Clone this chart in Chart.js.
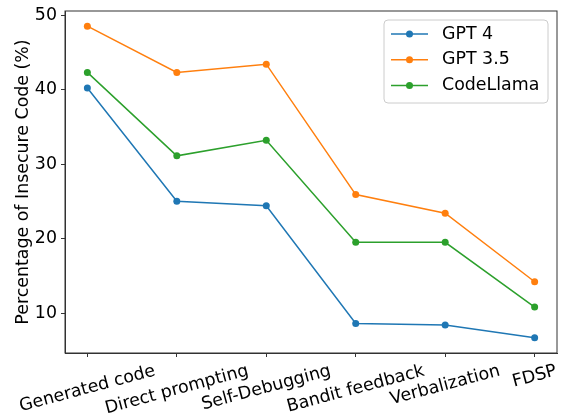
<!DOCTYPE html>
<html>
<head>
<meta charset="utf-8">
<script src="https://cdn.jsdelivr.net/npm/chart.js@4.4.0/dist/chart.umd.min.js"></script>
<style>html,body{margin:0;padding:0;background:#fff}</style>
</head>
<body>
<canvas id="grafico" width="561" height="415"></canvas>
<script>
// Datos
const categorias = ['Generated code', 'Direct prompting', 'Self-Debugging', 'Bandit feedback', 'Verbalization', 'FDSP'];
const gpt4 = [40.2, 25.0, 24.4, 8.6, 8.4, 6.7];
const gpt35 = [48.5, 42.3, 43.4, 25.9, 23.4, 14.2];
const codellama = [42.3, 31.1, 33.2, 19.5, 19.5, 10.8];
const nombres = ['GPT 4', 'GPT 3.5', 'CodeLlama'];
const colores = ['#1f77b4', '#ff7f0e', '#2ca02c'];
const ticksY = [10, 20, 30, 40, 50];

const tam = 17.4;
const fuente = { family: 'DejaVu Sans', size: tam };

const serie = (nombre, valores, color) => ({
  label: nombre,
  data: valores.map((v, i) => ({ x: i, y: v })),
  borderColor: color,
  backgroundColor: color,
  borderWidth: 1.5,
  pointRadius: 3.5,
  pointBorderWidth: 0,
  pointBackgroundColor: color
});

// marco, etiquetas rotadas y leyenda estilo matplotlib
const marco = {
  id: 'marco',
  afterDraw(chart) {
    const { ctx, chartArea: a, scales } = chart;
    ctx.save();
    ctx.strokeStyle = '#333';
    ctx.lineWidth = 1;
    ctx.strokeRect(a.left, a.top, a.right - a.left, a.bottom - a.top);

    ctx.font = tam + 'px "DejaVu Sans"';
    ctx.fillStyle = '#000';
    ctx.textAlign = 'center';
    ctx.textBaseline = 'middle';
    const th = 15 * Math.PI / 180;
    const h = tam * 1.164;
    categorias.forEach((c, i) => {
      const x = scales.x.getPixelForValue(i);
      const w = ctx.measureText(c).width;
      const bh = w * Math.sin(th) + h * Math.cos(th);
      ctx.save();
      ctx.translate(x, a.bottom + 8 + bh / 2);
      ctx.rotate(-th);
      ctx.fillText(c, 0, 0);
      ctx.restore();
    });

    // leyenda
    const lx = a.right - 173, ly = a.top + 9, lw = 164, lh = 83;
    ctx.beginPath();
    ctx.roundRect(lx, ly, lw, lh, 4);
    ctx.fillStyle = 'rgba(255,255,255,0.8)';
    ctx.fill();
    ctx.strokeStyle = '#cccccc';
    ctx.stroke();
    ctx.textAlign = 'left';
    chart.data.datasets.forEach((d, i) => {
      const y = ly + 14 + i * 25.8;
      ctx.strokeStyle = d.borderColor;
      ctx.lineWidth = 1.5;
      ctx.beginPath();
      ctx.moveTo(lx + 7, y);
      ctx.lineTo(lx + 44, y);
      ctx.stroke();
      ctx.fillStyle = d.borderColor;
      ctx.beginPath();
      ctx.arc(lx + 25.5, y, 3.5, 0, Math.PI * 2);
      ctx.fill();
      ctx.fillStyle = '#000';
      ctx.fillText(d.label, lx + 58, y);
    });
    ctx.restore();
  }
};

new Chart(document.getElementById('grafico'), {
  type: 'line',
  data: {
    datasets: [
      serie(nombres[0], gpt4, colores[0]),
      serie(nombres[1], gpt35, colores[1]),
      serie(nombres[2], codellama, colores[2])
    ]
  },
  options: {
    responsive: false,
    animation: false,
    devicePixelRatio: 1,
    layout: { padding: { left: 0, right: 4, top: 11, bottom: 0 } },
    plugins: { legend: { display: false }, tooltip: { enabled: false } },
    scales: {
      x: {
        type: 'linear',
        min: -0.25,
        max: 5.25,
        afterBuildTicks: s => { s.ticks = categorias.map((c, i) => ({ value: i })); },
        afterFit: s => { s.height = 62; s.paddingLeft = 0; s.paddingRight = 0; },
        ticks: { display: false },
        grid: { drawOnChartArea: false, tickLength: 4, color: '#333' },
        border: { color: '#333', width: 1 }
      },
      y: {
        min: 4.64,
        max: 50.54,
        afterBuildTicks: s => { s.ticks = ticksY.map(v => ({ value: v })); },
        afterFit: s => { s.width = 65; s.paddingTop = 0; s.paddingBottom = 0; },
        ticks: { font: fuente, color: '#000', padding: 4 },
        grid: { drawOnChartArea: false, tickLength: 4, color: '#333' },
        border: { color: '#333', width: 1 },
        title: {
          display: true,
          text: 'Percentage of Insecure Code (%)',
          font: fuente,
          color: '#000',
          padding: { top: 13, bottom: 0 }
        }
      }
    }
  },
  plugins: [marco]
});
</script>
</body>
</html>
